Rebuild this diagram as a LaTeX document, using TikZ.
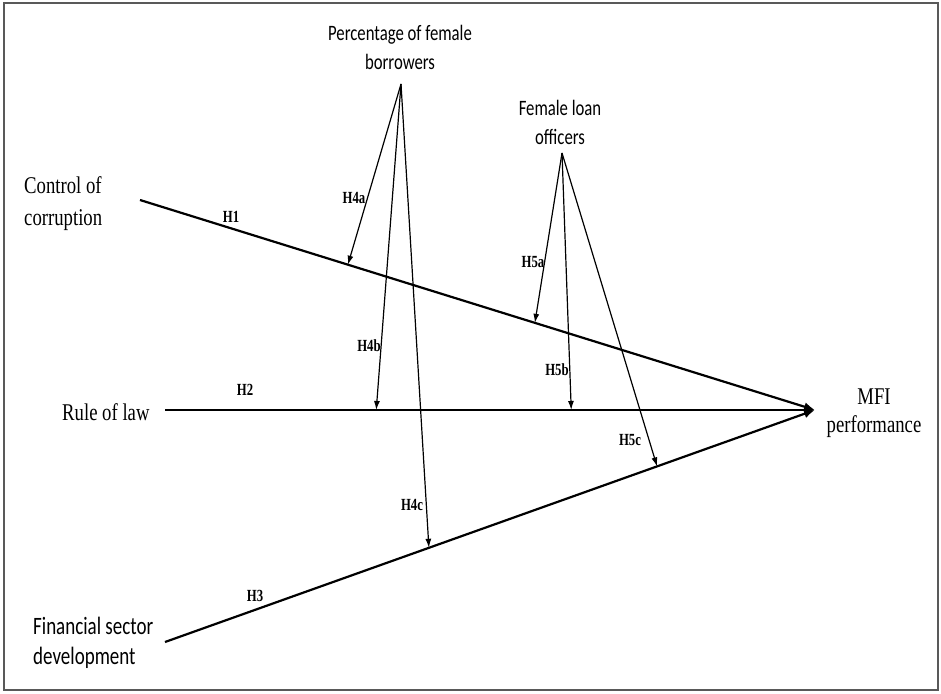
\documentclass[tikz,border=0pt]{standalone}
\usepackage{fontspec}
\usepackage{xcolor}
\usepackage{tikz}
\usetikzlibrary{arrows.meta,positioning,calc}
\newfontfamily\varserif[FakeStretch=0.78]{Liberation Serif}
\newfontfamily\varsans[FakeStretch=0.76]{Carlito}
\newfontfamily\hypfont[FakeStretch=0.75]{Liberation Serif}

\begin{document}
\begin{tikzpicture}[x=1pt,y=-1pt,
    every node/.style={inner sep=0pt},
    varname/.style={font=\varserif\fontsize{24}{32}\selectfont},
    modname/.style={font=\varsans\fontsize{22}{29}\selectfont,align=center},
    hyplabel/.style={font=\hypfont\bfseries\fontsize{17}{20}\selectfont},
    mainline/.style={line width=2.2pt,-{Latex[length=11pt,width=9pt]}},
    modarrow/.style={line width=1.2pt,-{Latex[length=9pt,width=6pt]}}]
  \useasboundingbox (0,0) rectangle (941,693);
  % frame
  \draw[gray!70!black,line width=1.5pt] (4,3) rectangle (938,690);
  % independent variables
  \node[varname,align=left,anchor=west] (cc) at (24,204) {Control of\\corruption};
  \node[varname,anchor=base west] (rl) at (62,420) {Rule of law};
  \node[font=\varsans\fontsize{25}{30}\selectfont,align=left,anchor=west] (fsd) at (33,643)
        {Financial sector\\development};
  % dependent variable
  \node[varname,align=center,font=\varserif\fontsize{24}{28}\selectfont] (mfi) at (874,413)
        {MFI\\performance};
  % moderators
  \node[modname] (pfb) at (400,47) {Percentage of female\\borrowers};
  \node[modname] (flo) at (560,122) {Female loan\\officers};
  \coordinate (cc-s) at (140,200);
  \coordinate (rl-s) at (165,410);
  \coordinate (fsd-s) at (165,642);
  \coordinate (mfi-t) at (815,410);
  \coordinate (pfb-a) at (401,84);
  \coordinate (flo-a) at (562,153);
  % direct effects
  \draw[mainline] (cc-s) -- coordinate[pos=0.308] (h4a) coordinate[pos=0.585] (h5a) (mfi-t);
  \draw[mainline] (rl-s) -- coordinate[pos=0.325] (h4b) coordinate[pos=0.625] (h5b) (mfi-t);
  \draw[mainline] (fsd-s) -- coordinate[pos=0.406] (h4c) coordinate[pos=0.757] (h5c) (mfi-t);
  % moderating effects
  \draw[modarrow] (pfb-a) -- (h4a);
  \draw[modarrow] (pfb-a) -- (h4b);
  \draw[modarrow] (pfb-a) -- (h4c);
  \draw[modarrow] (flo-a) -- (h5a);
  \draw[modarrow] (flo-a) -- (h5b);
  \draw[modarrow] (flo-a) -- (h5c);
  % hypothesis labels
  \node[hyplabel] (l1) at (231,217) {H1};
  \node[hyplabel] (l2) at (245,390) {H2};
  \node[hyplabel] (l3) at (255,596) {H3};
  \node[hyplabel] (l4a) at (354,198) {H4a};
  \node[hyplabel] (l4b) at (369,346) {H4b};
  \node[hyplabel] (l4c) at (412,505) {H4c};
  \node[hyplabel] (l5a) at (533,262) {H5a};
  \node[hyplabel] (l5b) at (557,370) {H5b};
  \node[hyplabel] (l5c) at (630,440) {H5c};
\end{tikzpicture}
\end{document}
